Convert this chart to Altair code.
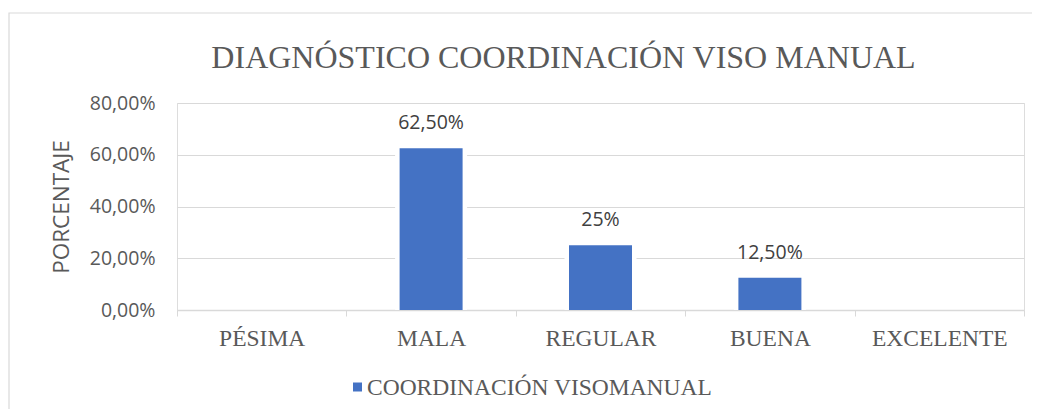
import altair as alt
import pandas as pd

categories = ["PÉSIMA", "MALA", "REGULAR", "BUENA", "EXCELENTE"]
values = [0.0, 0.625, 0.25, 0.125, 0.0]
value_labels = ["", "62,50%", "25%", "12,50%", ""]
series_name = "COORDINACIÓN VISOMANUAL"
title_text = "DIAGNÓSTICO COORDINACIÓN VISO MANUAL"
y_title = "PORCENTAJE"
y_ticks = [0.0, 0.2, 0.4, 0.6, 0.8]

df = pd.DataFrame({
    "cat": categories,
    "val": values,
    "lbl": value_labels,
    "serie": [series_name] * len(categories),
})
legend_df = pd.DataFrame({"serie": [series_name]})

TEXT = "#595959"
GRID = "#d9d9d9"
BLUE = "#4472C4"
SERIF = "Liberation Serif"
SANS = "Open Sans"

W, H = 847, 207

x_enc = alt.X(
    "cat:N", sort=categories, title=None,
    scale=alt.Scale(paddingInner=0, paddingOuter=0),
    axis=alt.Axis(
        labelAngle=0, labelFont=SERIF, labelFontSize=23.5, labelColor=TEXT,
        labelPadding=10, tickBand="extent", tickSize=6, tickColor=GRID,
        domainColor=GRID, domainWidth=1.5, grid=False,
    ),
)
y_enc = alt.Y(
    "val:Q", title=y_title,
    scale=alt.Scale(domain=[0, 0.8], nice=False),
    axis=alt.Axis(
        values=y_ticks, labelExpr="replace(format(datum.value, '.2%'), '.', ',')",
        labelFont=SANS, labelFontSize=19.5, labelColor=TEXT, labelPadding=22,
        ticks=False, tickSize=0, domain=False, grid=True, gridColor=GRID,
        titleFont=SANS, titleFontSize=22.5, titleColor=TEXT, titleFontWeight="normal",
        titleX=-109, titleY=H / 2, titleBaseline="alphabetic", titleAngle=270,
    ),
)

base = alt.Chart(df)

border = alt.Chart(pd.DataFrame({"a": [0]})).mark_rect(
    fill=None, stroke=GRID, strokeWidth=1.2
).encode(
    x=alt.value(-168), x2=alt.value(870), y=alt.value(-90), y2=alt.value(330)
)

white_bg = base.mark_bar(size=72, color="white").encode(x=x_enc, y=y_enc)

color_enc = alt.Color(
    "serie:N", title=None, legend=None,
    scale=alt.Scale(domain=[series_name], range=[BLUE]),
)

bars = base.mark_bar(size=63).encode(x=x_enc, y=y_enc, color=color_enc)

texts = base.mark_text(
    font=SANS, fontSize=19.5, color="#404040", baseline="alphabetic", dy=-19
).encode(x=x_enc, y=y_enc, text="lbl:N")

# legend (symbol + label)
leg_sym = alt.Chart(legend_df).mark_square(size=81, opacity=1).encode(
    x=alt.value(180.5), y=alt.value(284), color=color_enc
)
leg_txt = alt.Chart(legend_df).mark_text(
    font=SERIF, fontSize=23.5, color=TEXT, align="left", baseline="middle", dy=1
).encode(x=alt.value(190), y=alt.value(284), text="serie:N")

chart = alt.layer(border, white_bg, bars, texts, leg_sym, leg_txt).properties(
    width=W, height=H,
    autosize=alt.AutoSizeParams(type="none"),
    padding={"left": 169, "top": 95, "right": 8, "bottom": 99},
    title=alt.TitleParams(
        text=title_text, font=SERIF, fontSize=32, color=TEXT, fontWeight="normal",
        anchor="middle", frame="group", dx=-37, offset=0, dy=88, baseline="alphabetic",
    ),
).configure_view(stroke=None).configure(background="white")

chart.save("out.html", embed_options={"renderer": "svg", "actions": False})
